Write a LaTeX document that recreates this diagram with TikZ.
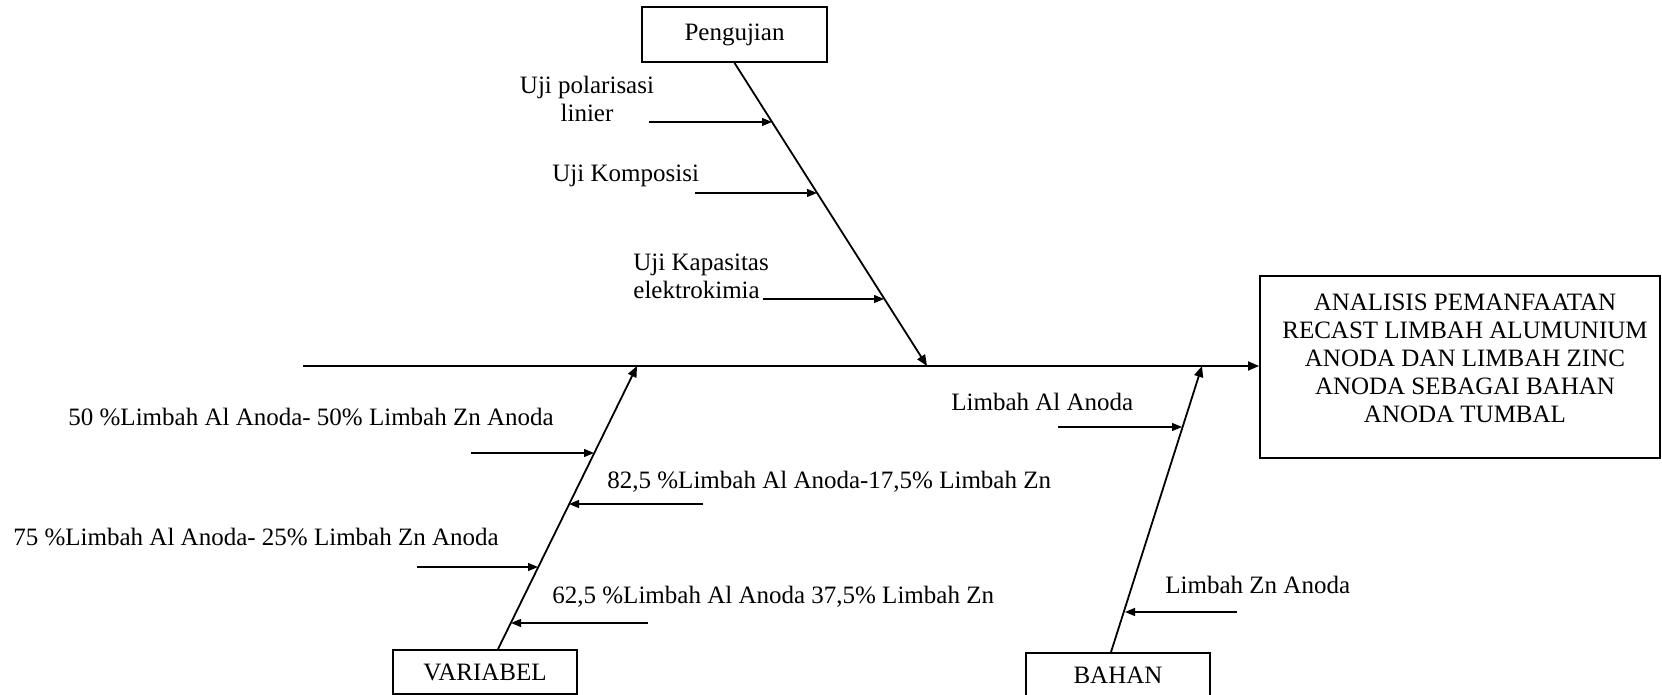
\documentclass[tikz,border=0pt]{standalone}
\usepackage{fontspec}
\setmainfont{Liberation Serif}
\usetikzlibrary{positioning, arrows.meta, calc}

\begin{document}
\begin{tikzpicture}[
        x=0.5pt, y=-0.5pt,
        font=\fontsize{12.5}{14}\selectfont,
        cat/.style   = {draw, line width=0.9pt, minimum width=92pt, minimum height=22pt, inner sep=0pt},
        goal/.style  = {draw, line width=0.9pt, minimum width=200pt, minimum height=91pt, inner sep=0pt},
        lbl/.style   = {inner sep=0pt, anchor=west},
        bone/.style  = {-{Triangle[length=5.5pt, width=4.5pt]}, line width=0.9pt},
        arrow/.style = {-{Triangle[length=5pt, width=4pt]}, line width=0.6pt},
    ]
        \useasboundingbox (0,0) rectangle (1662,695);
        % Head
        \node[goal] (goal) at (1460,367) {};
        \node[align=center, inner sep=0pt] (title) at (1465,358) {ANALISIS PEMANFAATAN\\RECAST LIMBAH ALUMUNIUM\\ANODA DAN LIMBAH ZINC\\ANODA SEBAGAI BAHAN\\ANODA TUMBAL};
        % Categories
        \node[cat, minimum width=92.5pt, minimum height=27.5pt] (uji) at (734.5,34.5) {Pengujian};
        \node[cat] (var) at (485,672) {VARIABEL};
        \node[cat] (bahan) at (1118,675) {BAHAN};
        % Causes
        \node[align=center, inner sep=0pt] (polar) at (587,99) {Uji polarisasi\\linier};
        \node[lbl] (komp) at (552,176) {Uji Komposisi};
        \node[lbl, align=left] (kapa) at (633,276) {Uji Kapasitas\\elektrokimia};
        \node[lbl] (v50) at (68,417) {50 \%Limbah Al Anoda- 50\% Limbah Zn Anoda};
        \node[lbl] (v82) at (607,482) {82,5 \%Limbah Al Anoda-17,5\% Limbah Zn};
        \node[lbl] (v75) at (13,537) {75 \%Limbah Al Anoda- 25\% Limbah Zn Anoda};
        \node[lbl] (v62) at (552,597) {62,5 \%Limbah Al Anoda 37,5\% Limbah Zn};
        \node[lbl] (al) at (951,402) {Limbah Al Anoda};
        \node[lbl] (zn) at (1165,585) {Limbah Zn Anoda};

        % Spine and bones
        \coordinate (tail) at (303,366);
        \coordinate (ujitip) at (927,366);
        \coordinate (vartip) at (637,366);
        \coordinate (bahantip) at (1202,366);
        \draw[bone] (tail) -- (tail -| goal.west);
        \draw[bone] (uji.south) -- (ujitip);
        \draw[bone] ($(var.north)+(13,0)$) -- (vartip);
        \draw[bone] ($(bahan.north)+(-7,0)$) -- (bahantip);

        % Branch ends
        \coordinate (polar-s) at (649,122);  \coordinate (polar-e) at (772,122);
        \coordinate (komp-s) at (695,193);   \coordinate (komp-e) at (817,193);
        \coordinate (kapa-s) at (763,299);   \coordinate (kapa-e) at (884,299);
        \coordinate (v50-s) at (471,453);    \coordinate (v50-e) at (594,453);
        \coordinate (v82-s) at (703,504);    \coordinate (v82-e) at (569,504);
        \coordinate (v75-s) at (417,567);    \coordinate (v75-e) at (538,567);
        \coordinate (v62-s) at (648,623);    \coordinate (v62-e) at (511,623);
        \coordinate (al-s) at (1058,427);    \coordinate (al-e) at (1182,427);
        \coordinate (zn-s) at (1237,612);    \coordinate (zn-e) at (1125,612);

        % Arrows
        \draw[arrow] (polar-s) -- (polar-e);
        \draw[arrow] (komp-s) -- (komp-e);
        \draw[arrow] (kapa-s) -- (kapa-e);
        \draw[arrow] (v50-s) -- (v50-e);
        \draw[arrow] (v82-s) -- (v82-e);
        \draw[arrow] (v75-s) -- (v75-e);
        \draw[arrow] (v62-s) -- (v62-e);
        \draw[arrow] (al-s) -- (al-e);
        \draw[arrow] (zn-s) -- (zn-e);
    \end{tikzpicture}
\end{document}
